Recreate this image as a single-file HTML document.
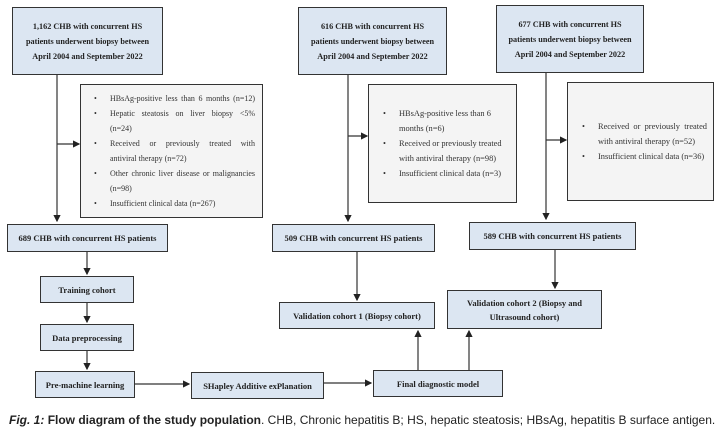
<!DOCTYPE html>
<html><head><meta charset="utf-8"><style>
body{margin:0;width:721px;height:436px;background:#fff;position:relative;overflow:hidden;font-family:"Liberation Serif",serif;}
.b{position:absolute;box-sizing:border-box;border:1.5px solid #333;background:#dce6f2;display:flex;align-items:center;justify-content:center;text-align:center;font-weight:bold;font-size:8.5px;line-height:14px;color:#222;}
.t{font-size:8.2px;line-height:15px;}
.e{position:absolute;box-sizing:border-box;border:1.5px solid #333;background:#f4f4f4;font-size:8.4px;line-height:15px;color:#333;display:flex;flex-direction:column;justify-content:center;}
.e ul{margin:0;padding:0 8px 0 30px;list-style:none;}
.e li{position:relative;text-align:justify;}
.e li:before{content:"•";position:absolute;left:-16px;}
.j{display:block;text-align:justify;text-align-last:justify;white-space:nowrap;}
svg{position:absolute;left:0;top:0;}
.cap{position:absolute;left:9px;top:413px;font-family:"Liberation Sans",sans-serif;font-size:12px;color:#222;white-space:nowrap;}
</style></head><body>
<svg width="721" height="436">
<defs><marker id="a" markerWidth="6" markerHeight="6" refX="5" refY="3" orient="auto"><path d="M0,0L6,3L0,6z" fill="#222"/></marker></defs>
<g stroke="#333" stroke-width="1.2" fill="none" marker-end="url(#a)">
<path d="M57,74V221"/><path d="M57,144H79"/>
<path d="M348,74V221"/><path d="M348,136H367"/>
<path d="M546,72V219"/><path d="M546,140H566"/>
<path d="M87,251V274"/><path d="M87,302V322"/><path d="M87,350V369"/>
<path d="M357,251V300"/><path d="M555,249V288"/>
<path d="M134,384H189"/><path d="M324,383H371"/>
<path d="M418,370V331"/><path d="M469,370V331"/>
</g></svg>
<div class="b t" style="left:12px;top:7px;width:151px;height:68px;">1,162 CHB with concurrent HS<br>patients underwent biopsy between<br>April 2004 and September 2022</div>
<div class="b t" style="left:298px;top:7px;width:149px;height:68px;">616 CHB with concurrent HS<br>patients underwent biopsy between<br>April 2004 and September 2022</div>
<div class="b t" style="left:496px;top:5px;width:148px;height:68px;">677 CHB with concurrent HS<br>patients underwent biopsy between<br>April 2004 and September 2022</div>
<div class="e" style="left:80px;top:84px;width:183px;height:134px;font-size:8px;"><ul style="padding-right:7px;padding-left:29px">
<li><span class="j">HBsAg-positive less than 6 months (n=12)</span></li>
<li><span class="j">Hepatic steatosis on liver biopsy &lt;5%</span>(n=24)</li>
<li><span class="j">Received or previously treated with</span>antiviral therapy (n=72)</li>
<li><span class="j">Other chronic liver disease or malignancies</span>(n=98)</li>
<li>Insufficient clinical data (n=267)</li></ul></div>
<div class="e" style="left:368px;top:84px;width:149px;height:119px;"><ul style="padding-right:12px">
<li style="text-align:left">HBsAg-positive less than 6 months (n=6)</li>
<li style="text-align:left">Received or previously treated with antiviral therapy (n=98)</li>
<li>Insufficient clinical data (n=3)</li></ul></div>
<div class="e" style="left:567px;top:82px;width:147px;height:119px;"><ul style="padding-right:6px">
<li>Received or previously treated with antiviral therapy (n=52)</li>
<li>Insufficient clinical data (n=36)</li></ul></div>
<div class="b" style="left:7px;top:224px;width:161px;height:28px;">689 CHB with concurrent HS patients</div>
<div class="b" style="left:272px;top:224px;width:163px;height:28px;">509 CHB with concurrent HS patients</div>
<div class="b" style="left:469px;top:222px;width:167px;height:28px;">589 CHB with concurrent HS patients</div>
<div class="b" style="left:40px;top:276px;width:94px;height:27px;">Training cohort</div>
<div class="b" style="left:40px;top:324px;width:94px;height:27px;">Data preprocessing</div>
<div class="b" style="left:35px;top:371px;width:100px;height:27px;">Pre-machine learning</div>
<div class="b" style="left:191px;top:372px;width:133px;height:27px;">SHapley Additive exPlanation</div>
<div class="b" style="left:373px;top:370px;width:130px;height:27px;">Final diagnostic model</div>
<div class="b" style="left:279px;top:302px;width:156px;height:27px;">Validation cohort 1 (Biopsy cohort)</div>
<div class="b" style="left:447px;top:290px;width:155px;height:39px;">Validation cohort 2 (Biopsy and<br>Ultrasound cohort)</div>
<div class="cap"><i><b>Fig. 1:</b></i> <b>Flow diagram of the study population</b>. CHB, Chronic hepatitis B; HS, hepatic steatosis; HBsAg, hepatitis B surface antigen.</div>
</body></html>
